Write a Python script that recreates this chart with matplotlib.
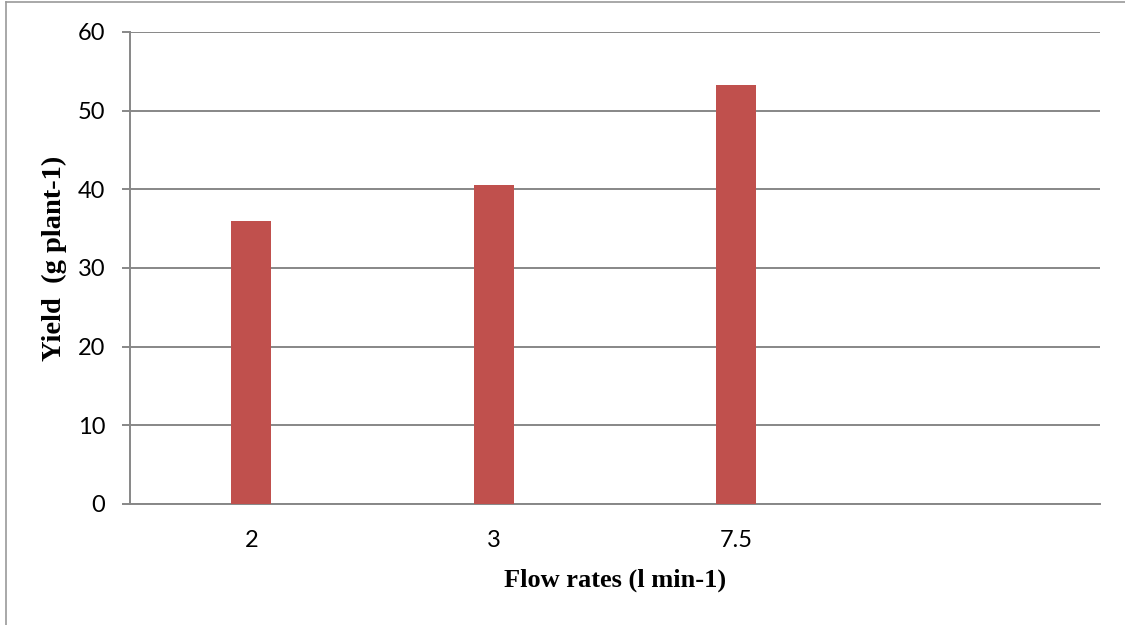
import matplotlib
matplotlib.use("Agg")
import matplotlib.pyplot as plt
from matplotlib.lines import Line2D

# Yield per plant at each flow rate
categories = ["2", "3", "7.5", ""]
yield_values = [36.0, 40.6, 53.2, None]
y_ticks = [0, 10, 20, 30, 40, 50, 60]

W, H = 1125, 625
fig = plt.figure(figsize=(W / 100, H / 100), dpi=100)
ax = fig.add_axes([130 / W, 1 - 504 / H, (1100 - 130) / W, (504 - 32) / H])

grid_col = "#878787"
bar_col = "#C0504D"

xs = list(range(len(categories)))
bx = [x for x, v in zip(xs, yield_values) if v is not None]
bv = [v for v in yield_values if v is not None]
ax.bar(bx, bv, width=0.165, color=bar_col, zorder=3)

ax.set_xlim(-0.5, len(categories) - 0.5)
ax.set_ylim(0, 60)
ax.set_yticks(y_ticks)
ax.set_xticks(xs)
ax.set_xticklabels(categories)

ax.grid(axis="y", color=grid_col, linewidth=1.4, zorder=0)
ax.set_axisbelow(True)
for s in ("top", "right"):
    ax.spines[s].set_visible(False)
for s in ("left", "bottom"):
    ax.spines[s].set_color(grid_col)
    ax.spines[s].set_linewidth(1.4)

tick_font = "Lato"
ax.tick_params(axis="y", length=5.8, width=1.4, color=grid_col, pad=12,
               labelsize=17)
ax.tick_params(axis="x", length=0, pad=18.5, labelsize=17)
for lbl in ax.get_xticklabels() + ax.get_yticklabels():
    lbl.set_fontfamily(tick_font)

ax.set_xlabel("Flow rates (l min-1)", fontfamily="Liberation Serif",
              fontweight="bold", fontsize=19, va="center")
ax.set_ylabel("Yield  (g plant-1)", fontfamily="Liberation Serif",
              fontweight="bold", fontsize=20.5, va="center")
ax.xaxis.set_label_coords(0.5, -0.161)
ax.yaxis.set_label_coords(-0.0784, 0.52)

# Chart frame along the top and left edges
fig.add_artist(Line2D([6 / W, 1], [1 - 1.5 / H, 1 - 1.5 / H],
                      transform=fig.transFigure, color="#9a9a9a", linewidth=1.2))
fig.add_artist(Line2D([6 / W, 6 / W], [0, 1 - 1.5 / H],
                      transform=fig.transFigure, color="#9a9a9a", linewidth=1.2))

fig.savefig("out.png", dpi=100)
